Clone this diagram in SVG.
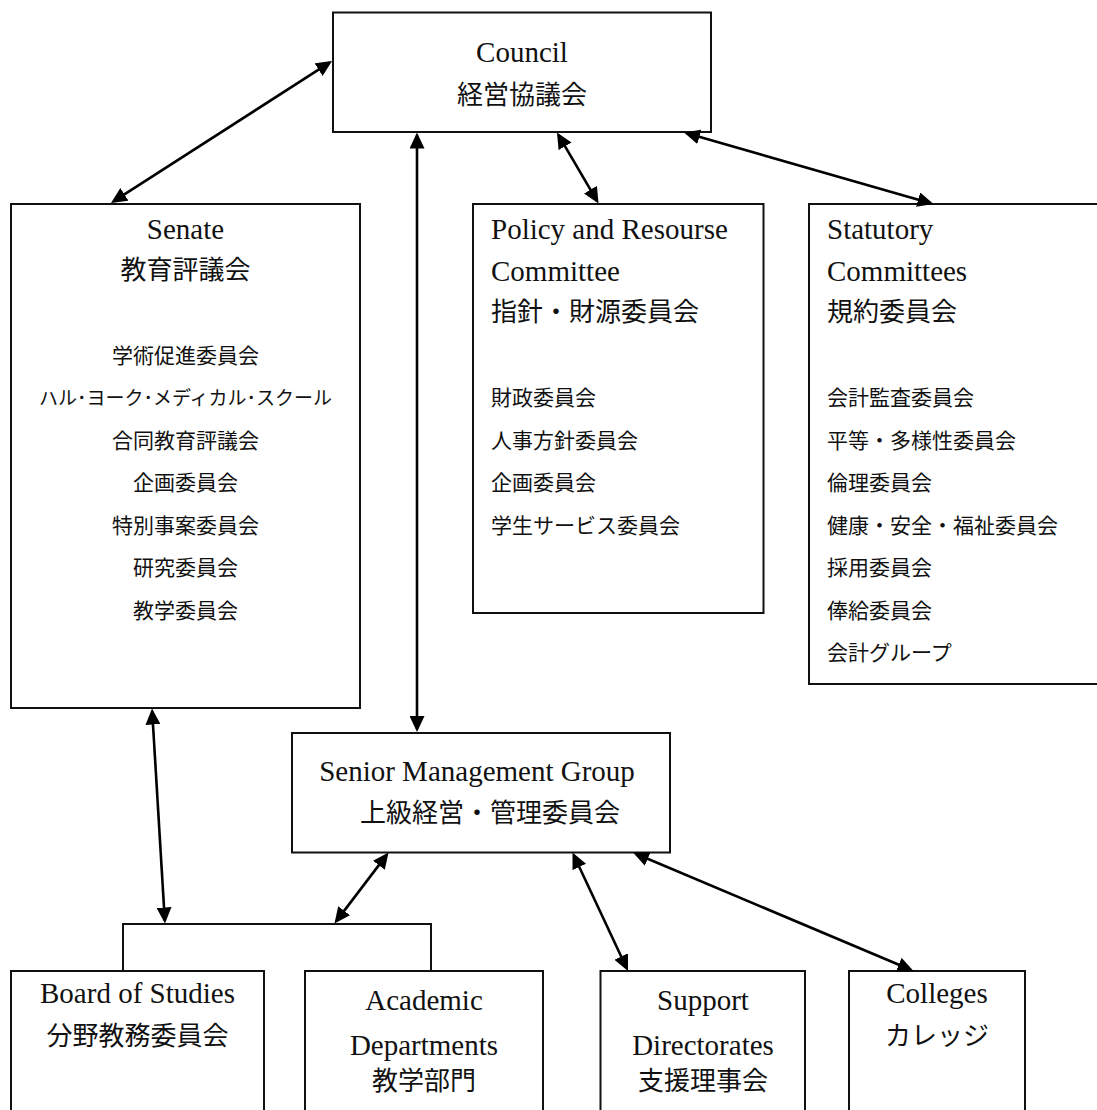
<svg xmlns="http://www.w3.org/2000/svg" width="1097" height="1110" viewBox="0 0 1097 1110">
<defs>
<style>
.box{fill:#fff;stroke:#111;stroke-width:2}
.t{font-family:"Liberation Serif","Noto Sans CJK JP",serif;fill:#111}
.en{font-size:29px}
.jh{font-size:26px}
.ji{font-size:21px}
.jk{font-size:19px}
.c{text-anchor:middle}
.conn{fill:none;stroke:#000;stroke-width:2.6}
.arr{marker-start:url(#ah);marker-end:url(#ah)}
</style>
<marker id="ah" viewBox="0 0 16 15" refX="13" refY="7.5" markerWidth="16" markerHeight="15" markerUnits="userSpaceOnUse" orient="auto-start-reverse"><path d="M0,0 L16,7.5 L0,15 z" fill="#000"/></marker>
</defs>
<rect width="1097" height="1110" fill="#fff"/>

<g id="council">
<rect class="box" x="333" y="12.5" width="378" height="119.5"/>
<text class="t en c" x="522" y="62">Council</text>
<text class="t jh c" x="522" y="104">経営協議会</text>
</g>

<g id="senate">
<rect class="box" x="11" y="204" width="349" height="504"/>
<text class="t en c" x="185.5" y="239">Senate</text>
<text class="t jh c" x="185.5" y="279">教育評議会</text>
<text class="t ji c" x="185.5" y="362.5">学術促進委員会</text>
<text class="t jk c" x="185.5" y="405">ハル･ヨーク･メディカル･スクール</text>
<text class="t ji c" x="185.5" y="447.5">合同教育評議会</text>
<text class="t ji c" x="185.5" y="490">企画委員会</text>
<text class="t ji c" x="185.5" y="532.5">特別事案委員会</text>
<text class="t ji c" x="185.5" y="575">研究委員会</text>
<text class="t ji c" x="185.5" y="617.5">教学委員会</text>
</g>

<g id="policy">
<rect class="box" x="473" y="204" width="290.5" height="409"/>
<text class="t en" x="491" y="239">Policy and Resourse</text>
<text class="t en" x="491" y="281">Committee</text>
<text class="t jh" x="491" y="321">指針・財源委員会</text>
<text class="t ji" x="491" y="405">財政委員会</text>
<text class="t ji" x="491" y="447.5">人事方針委員会</text>
<text class="t ji" x="491" y="490">企画委員会</text>
<text class="t ji" x="491" y="532.5">学生サービス委員会</text>
</g>

<g id="statutory">
<rect class="box" x="809" y="204" width="300" height="480"/>
<text class="t en" x="827" y="239">Statutory</text>
<text class="t en" x="827" y="281">Committees</text>
<text class="t jh" x="827" y="321">規約委員会</text>
<text class="t ji" x="827" y="405">会計監査委員会</text>
<text class="t ji" x="827" y="447.5">平等・多様性委員会</text>
<text class="t ji" x="827" y="490">倫理委員会</text>
<text class="t ji" x="827" y="532.5">健康・安全・福祉委員会</text>
<text class="t ji" x="827" y="575">採用委員会</text>
<text class="t ji" x="827" y="617.5">俸給委員会</text>
<text class="t ji" x="827" y="660">会計グループ</text>
</g>

<g id="smg">
<rect class="box" x="292" y="733" width="378" height="119.5"/>
<text class="t en c" x="477" y="781">Senior Management Group</text>
<text class="t jh" x="360" y="822">上級経営・管理委員会</text>
</g>

<g id="board">
<rect class="box" x="11" y="971" width="253" height="160"/>
<text class="t en c" x="137.5" y="1003">Board of Studies</text>
<text class="t jh c" x="137.5" y="1045">分野教務委員会</text>
</g>

<g id="academic">
<rect class="box" x="305" y="971" width="238" height="160"/>
<text class="t en c" x="424" y="1010">Academic</text>
<text class="t en c" x="424" y="1055">Departments</text>
<text class="t jh c" x="424" y="1090">教学部門</text>
</g>

<g id="support">
<rect class="box" x="600.5" y="971" width="204.5" height="160"/>
<text class="t en c" x="703" y="1010">Support</text>
<text class="t en c" x="703" y="1055">Directorates</text>
<text class="t jh c" x="703" y="1090">支援理事会</text>
</g>

<g id="colleges">
<rect class="box" x="849" y="971" width="176" height="160"/>
<text class="t en c" x="937" y="1003">Colleges</text>
<text class="t jh c" x="937" y="1045">カレッジ</text>
</g>

<g id="connectors">
<path class="box" style="fill:none" d="M123,971 V924 H431 V971"/>
<line class="conn arr" x1="329.5" y1="62.6" x2="113.5" y2="201.4"/>
<line class="conn arr" x1="417" y1="135.5" x2="417" y2="729"/>
<line class="conn arr" x1="558.5" y1="135.1" x2="597" y2="200.9"/>
<line class="conn arr" x1="686.9" y1="133.3" x2="930.6" y2="203.2"/>
<line class="conn arr" x1="152.2" y1="711.5" x2="164.8" y2="920.5"/>
<line class="conn arr" x1="386.7" y1="854.9" x2="336.3" y2="921.1"/>
<line class="conn arr" x1="573.8" y1="855.2" x2="626.7" y2="968.3"/>
<line class="conn arr" x1="635.8" y1="853.7" x2="910.7" y2="969.8"/>
</g>
</svg>
